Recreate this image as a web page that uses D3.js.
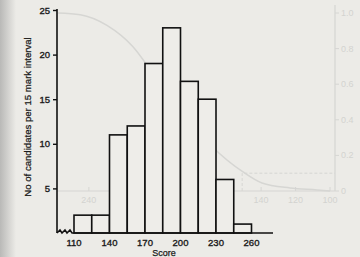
<!DOCTYPE html>
<html><head><meta charset="utf-8">
<script src="https://cdn.jsdelivr.net/npm/d3@7"></script>
<style>html,body{margin:0;padding:0;background:#ecebe7;}svg{display:block;}</style>
</head><body><svg id="c" width="360" height="257"></svg>
<script>
// Histogram data: score intervals (15 marks each) and candidate counts
const binStarts = [110,125,140,155,170,185,200,215,230,245];
const binWidth = 15;
const counts = [2,2,11,12,19,23,17,15,6,1];
const xTickLabels = [110,140,170,200,230,260];
const yTicks = [5,10,15,20,25];
// Faint show-through from the reverse page (cumulative curve)
const ghostScores = [258,245,229.5,214.4,202.8,187.1,177.2,168.5,150.5,139.5,123.2,107.5,100];
const ghostProps  = [1.0,0.99,0.93,0.81,0.66,0.455,0.34,0.25,0.107,0.045,0.017,0.006,0.0];
const ghostXTicks = [100,120,140,160,180,200,220,240];
const ghostYTicks = [0,0.2,0.4,0.6,0.8,1.0];

const svg = d3.select('#c');
const font = '"Liberation Sans", Arial, sans-serif';
const ink = '#1a1a1a';

// paper shading on the left edge
const defs = svg.append('defs');
const g = defs.append('linearGradient').attr('id','shade').attr('x1',0).attr('x2',1);
g.append('stop').attr('offset',0).attr('stop-color','#b9b9b7');
g.append('stop').attr('offset',1).attr('stop-color','#ecebe7');
svg.append('rect').attr('width',360).attr('height',257).attr('fill','#ecebe7');
svg.append('rect').attr('width',16).attr('height',257).attr('fill','url(#shade)');

// ghost layer
const gx = d3.scaleLinear().domain([100,280]).range([330,20]);
const gy = d3.scaleLinear().domain([0,1]).range([191,13]);
const ghost = svg.append('g').attr('stroke','#d6d6d3').attr('fill','none');
ghost.append('line').attr('x1',57).attr('x2',gx(100)+5).attr('y1',gy(0)).attr('y2',gy(0)).attr('stroke-width',1.2);
ghost.append('line').attr('x1',gx(100)+5).attr('x2',gx(100)+5).attr('y1',gy(0)).attr('y2',gy(1)-8).attr('stroke-width',1.2);
ghost.append('path').attr('stroke-width',1.5)
  .attr('d', d3.line().x((d,i)=>gx(ghostScores[i])).y((d,i)=>gy(ghostProps[i])).curve(d3.curveMonotoneX)(ghostScores));
ghost.append('path').attr('stroke-dasharray','3,2').attr('stroke-width',1)
  .attr('d', `M${gx(151)},${gy(0)}V${gy(0.1)}H${gx(100)+5}`);
ghost.selectAll('.gt').data(ghostXTicks).join('line')
  .attr('x1',d=>gx(d)).attr('x2',d=>gx(d)).attr('y1',gy(0)).attr('y2',gy(0)-4);
ghost.selectAll('.gyt').data(ghostYTicks).join('line')
  .attr('x1',gx(100)+5).attr('x2',gx(100)+9).attr('y1',d=>gy(d)).attr('y2',d=>gy(d));
const gtext = svg.append('g').attr('fill','#d3d3d0').attr('font-family',font).attr('font-size',9);
gtext.selectAll('text.gx').data(ghostXTicks).join('text').attr('x',d=>gx(d)).attr('y',gy(0)+12)
  .attr('text-anchor','middle').text(d=>d);
gtext.selectAll('text.gy').data(ghostYTicks).join('text').attr('x',gx(100)+11).attr('y',d=>gy(d)+3)
  .text(d=>d===0?'0':d.toFixed(1));

// main chart
const x = d3.scaleLinear().domain([110,260]).range([74,251.5]);
const y = d3.scaleLinear().domain([0,25]).range([233,10]);
const axisX = 57;

const bars = svg.append('g');
bars.selectAll('rect').data(binStarts).join('rect')
  .attr('x',d=>x(d)).attr('width',d=>x(d+binWidth)-x(d))
  .attr('y',(d,i)=>y(counts[i])).attr('height',(d,i)=>y(0)-y(counts[i]))
  .attr('fill','#eeede9').attr('stroke','#111').attr('stroke-width',1.6);

// y axis
const ya = svg.append('g').attr('transform',`translate(${axisX},0)`)
  .call(d3.axisLeft(y).tickValues(yTicks).tickSize(4).tickPadding(3));
ya.select('.domain').attr('d',`M0,${y(25)-1}V${y(0)}`).attr('stroke','#111').attr('stroke-width',1.6);
ya.selectAll('line').attr('stroke','#111').attr('stroke-width',1.4);
ya.selectAll('text').attr('font-family',font).attr('font-size',9.5).attr('fill',ink)
  .attr('stroke',ink).attr('stroke-width',0.35);

// baseline with break zigzag
const z0 = axisX, zb = y(0);
svg.append('path').attr('fill','none').attr('stroke','#111').attr('stroke-width',1.5)
  .attr('d',`M${z0},${zb}L${z0+3},${zb-3}L${z0+5},${zb}L${z0+8},${zb-3}L${z0+10},${zb}L${z0+13},${zb-3}L${z0+15},${zb}H273`);

// x tick labels
svg.append('g').selectAll('text').data(xTickLabels).join('text')
  .attr('x',d=>x(d)).attr('y',246).attr('text-anchor','middle')
  .attr('font-family',font).attr('font-size',9.5).attr('fill',ink)
  .attr('stroke',ink).attr('stroke-width',0.35).text(d=>d);

svg.append('text').attr('x',164).attr('y',256).attr('text-anchor','middle')
  .attr('font-family',font).attr('font-size',9).attr('fill',ink)
  .attr('stroke',ink).attr('stroke-width',0.25).text('Score');

svg.append('text').attr('transform','translate(31,117) rotate(-90)').attr('text-anchor','middle')
  .attr('font-family',font).attr('font-size',9.6).attr('fill',ink)
  .attr('stroke',ink).attr('stroke-width',0.25)
  .text('No of candidates per 15 mark interval');
</script></body></html>
